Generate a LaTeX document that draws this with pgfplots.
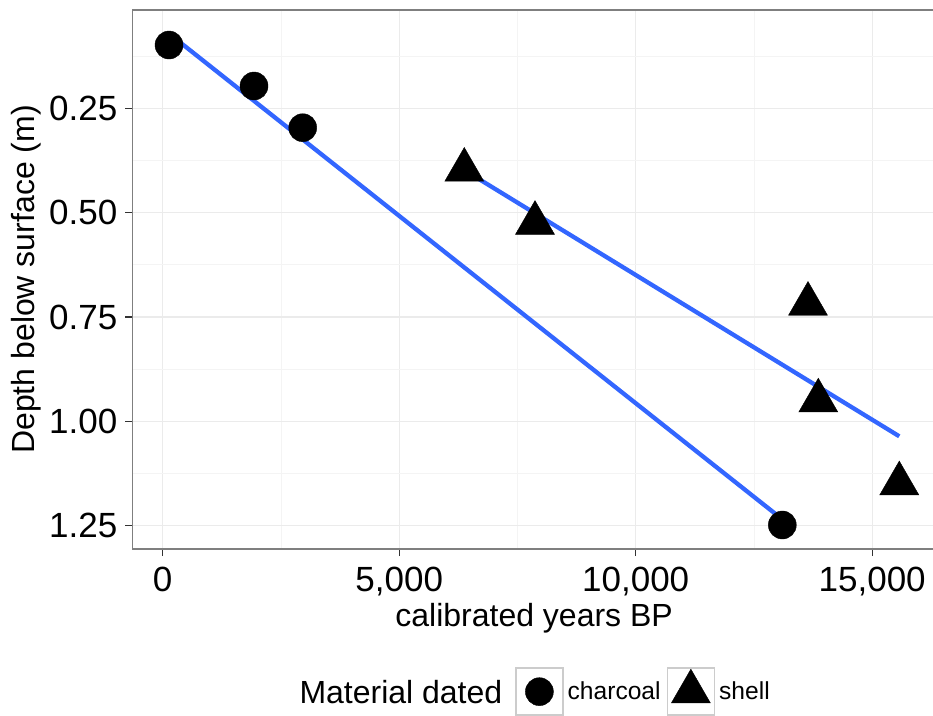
\documentclass[border=0pt]{standalone}
\usepackage{fontspec}
\setmainfont{Liberation Sans}
\usepackage{pgfplots}
\pgfplotsset{compat=1.18}
\definecolor{lineblue}{HTML}{3366FF}
\definecolor{gridmaj}{HTML}{EBEBEB}
\definecolor{gridmin}{HTML}{F4F4F4}
\definecolor{framec}{HTML}{7F7F7F}
\definecolor{tickc}{HTML}{333333}
\definecolor{keyc}{HTML}{CCCCCC}
\begin{document}
\begin{tikzpicture}
\begin{axis}[
  name=ax,
  scale only axis, width=803.3pt, height=539pt,
  xmin=-639, xmax=16345, ymin=0.0145, ymax=1.3058, y dir=reverse,
  xtick={0,5000,10000,15000}, minor xtick={2500,7500,12500},
  ytick={0.25,0.5,0.75,1,1.25}, minor ytick={0.125,0.375,0.625,0.875,1.125},
  grid=both,
  major grid style={gridmaj, line width=1.1pt},
  minor grid style={gridmin, line width=0.7pt},
  axis line style={framec, line width=1.1pt},
  tick align=outside, tick pos=left,
  major tick length=7pt, minor tick length=0pt,
  every tick/.style={tickc, line width=1.1pt},
  /pgf/number format/assume math mode=true,
  x tick label style={/pgf/number format/1000 sep={,}, font=\fontsize{35}{42}\selectfont, text=black, anchor=north, inner sep=0pt, yshift=-11pt},
  y tick label style={/pgf/number format/.cd, fixed, fixed zerofill, precision=2, /tikz/.cd, font=\fontsize{35}{42}\selectfont, text=black, anchor=east, inner sep=0pt, xshift=-8pt},
  scaled x ticks=false,
  xlabel={calibrated years BP},
  ylabel={Depth below surface (m)},
  xlabel style={font=\fontsize{32}{38}\selectfont, at={(axis description cs:0.5,-0.1429)}, anchor=base, inner sep=0pt},
  ylabel style={font=\fontsize{32}{38}\selectfont, at={(axis description cs:-0.1214,0.5)}, anchor=base, inner sep=0pt},
  legend style={at={(axis description cs:0.4761,-0.2647)}, anchor=west, draw=none, fill=none,
    font=\fontsize{24.6}{30}\selectfont, inner sep=0pt,
    nodes={inner sep=4pt},
    /tikz/every even column/.style={column sep=2pt}},
  legend columns=2,
]
\addplot[only marks, mark=*, mark size=14pt, black,
  legend image code/.code={\draw[keyc, line width=1.5pt, fill=white] (0pt,-23.5pt) rectangle (47pt,23.5pt);
    \fill[black] (23.5pt,0pt) circle (14pt);}]
  coordinates {(133,0.0984) (1930,0.1966) (2960,0.2965) (13100,1.2483)};
\addlegendentry{charcoal}
\addplot[only marks, mark=triangle*, mark size=22.5pt, black,
  legend image code/.code={\draw[keyc, line width=1.5pt, fill=white] (0pt,-23.5pt) rectangle (47pt,23.5pt);
    \draw[black, mark=triangle*, mark size=22.5pt, only marks] plot coordinates {(23.5pt,0pt)};}]
  coordinates {(6376,0.3978) (7871,0.525) (13643,0.7189) (13861,0.9505) (15573,1.149)};
\addlegendentry{shell}
\addplot[lineblue, line width=4.3pt, forget plot] coordinates {(133,0.071) (13100,1.2347)};
\addplot[lineblue, line width=4.3pt, forget plot] coordinates {(6376,0.398) (15573,1.0358)};
\end{axis}
\node[anchor=base west, font=\fontsize{32}{38}\selectfont, inner sep=0pt] at ([shift={(166.8pt,-154.3pt)}]ax.south west) {Material dated};
\pgfresetboundingbox
\path ([shift={(-132.5pt,-167pt)}]ax.south west) rectangle ([shift={(-2.8pt,10pt)}]ax.north east);
\end{tikzpicture}
\end{document}
